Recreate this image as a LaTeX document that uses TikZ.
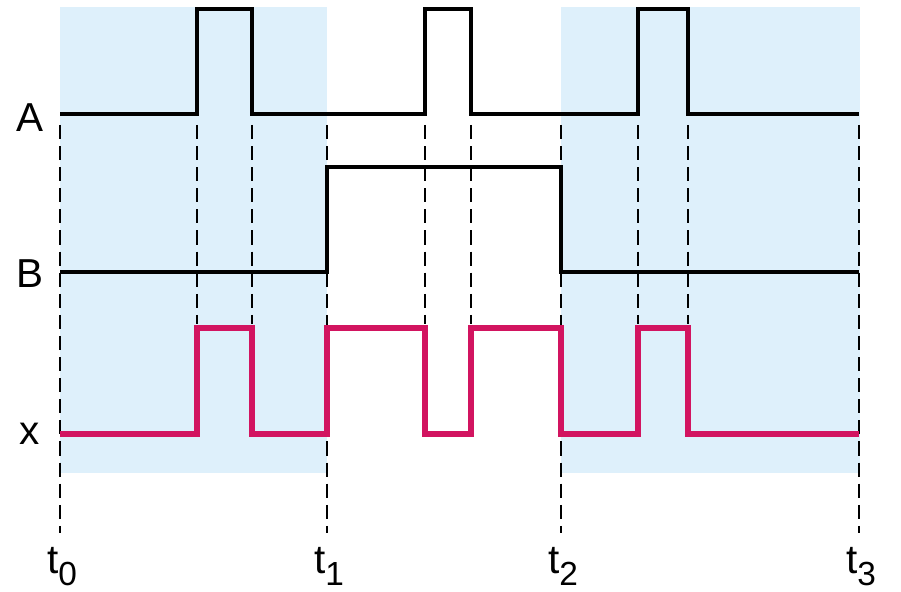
\documentclass[tikz,border=0pt]{standalone}
\usepackage{fontspec}
\setmainfont{Liberation Sans}
\usetikzlibrary{calc}
\definecolor{zoneblue}{RGB}{222,240,251}
\definecolor{outred}{RGB}{210,20,96}
\newcommand{\tlab}[1]{t\raisebox{-0.32em}{\fontsize{9.5}{10}\selectfont #1}}

\begin{document}
\begin{tikzpicture}[x=0.01cm, y=-0.01cm,
    line join=miter,
    wave/.style={line width=1.3pt},
    outwave/.style={line width=1.5pt, draw=outred},
    guide/.style={line width=0.6pt, dash pattern=on 4pt off 2pt},
    lbl/.style={font=\fontsize{11.5}{14}\selectfont, inner sep=0pt}]
  \useasboundingbox (0,0) rectangle (901,592);

  % shaded intervals
  \fill[zoneblue] (60,7) rectangle (327,473);
  \fill[zoneblue] (561,7) rectangle (860,473);

  % signal labels
  \node[lbl] (A) at (30,118) {A};
  \node[lbl] (B) at (30,274) {B};
  \node[lbl] (X) at (30,434) {x};

  % time labels
  \node[lbl, anchor=base] (t0) at (62,573) {\tlab{0}};
  \node[lbl, anchor=base] (t1) at (329,573) {\tlab{1}};
  \node[lbl, anchor=base] (t2) at (563,573) {\tlab{2}};
  \node[lbl, anchor=base] (t3) at (861,573) {\tlab{3}};

  % guide lines
  \foreach \t in {60,327,561,859}
    \draw[guide] (\t,125) -- (\t,533);
  \foreach \t in {197,252,425,471,638,688}
    \draw[guide] (\t,125) -- (\t,324);

  % inputs
  \draw[wave] (60,114) -- (197,114) -- (197,9) -- (252,9) -- (252,114)
    -- (425,114) -- (425,9) -- (471,9) -- (471,114)
    -- (638,114) -- (638,9) -- (688,9) -- (688,114) -- (859,114);
  \draw[wave] (60,272) -- (327,272) -- (327,167) -- (561,167)
    -- (561,272) -- (859,272);

  % output
  \draw[outwave] (60,434) -- (197,434) -- (197,328) -- (252,328) -- (252,434)
    -- (327,434) -- (327,328) -- (425,328) -- (425,434) -- (471,434)
    -- (471,328) -- (561,328) -- (561,434) -- (638,434) -- (638,328)
    -- (688,328) -- (688,434) -- (859,434);
\end{tikzpicture}
\end{document}
